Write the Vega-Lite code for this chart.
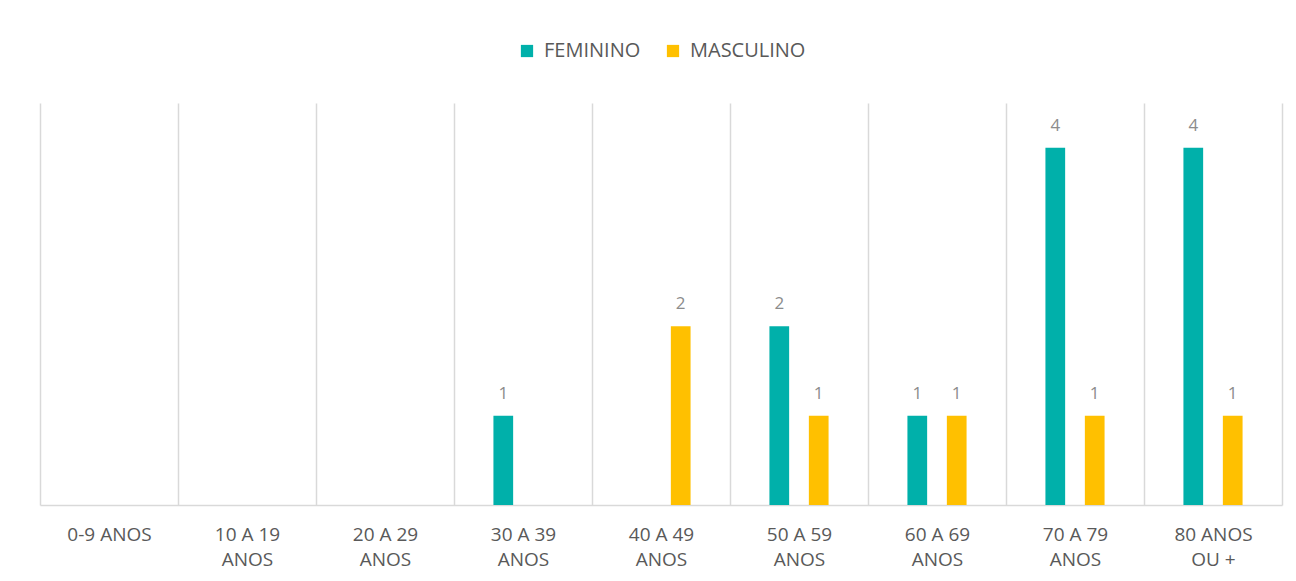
{
  "$schema": "https://vega.github.io/schema/vega-lite/v6.json",
  "width": 1242,
  "height": 402,
  "autosize": "none",
  "padding": {"left": 40, "top": 103, "right": 14, "bottom": 76},
  "background": "white",
  "data": {
    "values": [
      {"faixa": "30 A 39 ANOS", "sexo": "FEMININO", "n": 1},
      {"faixa": "40 A 49 ANOS", "sexo": "MASCULINO", "n": 2},
      {"faixa": "50 A 59 ANOS", "sexo": "FEMININO", "n": 2},
      {"faixa": "50 A 59 ANOS", "sexo": "MASCULINO", "n": 1},
      {"faixa": "60 A 69 ANOS", "sexo": "FEMININO", "n": 1},
      {"faixa": "60 A 69 ANOS", "sexo": "MASCULINO", "n": 1},
      {"faixa": "70 A 79 ANOS", "sexo": "FEMININO", "n": 4},
      {"faixa": "70 A 79 ANOS", "sexo": "MASCULINO", "n": 1},
      {"faixa": "80 ANOS OU +", "sexo": "FEMININO", "n": 4},
      {"faixa": "80 ANOS OU +", "sexo": "MASCULINO", "n": 1}
    ]
  },
  "config": {
    "view": {"stroke": null},
    "font": "Open Sans"
  },
  "encoding": {
    "x": {
      "field": "faixa",
      "type": "nominal",
      "sort": null,
      "scale": {
        "domain": ["0-9 ANOS", "10 A 19 ANOS", "20 A 29 ANOS", "30 A 39 ANOS", "40 A 49 ANOS", "50 A 59 ANOS", "60 A 69 ANOS", "70 A 79 ANOS", "80 ANOS OU +"],
        "paddingInner": 0,
        "paddingOuter": 0
      },
      "axis": {
        "title": null,
        "labelAngle": 0,
        "labelExpr": "!datum.value ? '' : datum.value == '0-9 ANOS' ? datum.value : datum.value == '80 ANOS OU +' ? ['80 ANOS', 'OU +'] : [replace(datum.value, ' ANOS', ''), 'ANOS']",
        "labelFontSize": 19,
        "labelColor": "#595959",
        "labelLineHeight": 25,
        "labelPadding": 20,
        "ticks": false,
        "grid": true,
        "tickBand": "extent",
        "gridColor": "#D9D9D9",
        "gridWidth": 1.5,
        "domainColor": "#D9D9D9",
        "domainWidth": 1.5
      }
    },
    "xOffset": {
      "field": "sexo",
      "type": "nominal",
      "scale": {"domain": ["FEMININO", "MASCULINO"], "paddingInner": 0.5, "paddingOuter": 1.1667}
    },
    "y": {
      "field": "n",
      "type": "quantitative",
      "scale": {"domain": [0, 4.5], "nice": false},
      "axis": null
    }
  },
  "layer": [
    {
      "mark": {"type": "bar"},
      "encoding": {
        "color": {
          "field": "sexo",
          "type": "nominal",
          "scale": {"domain": ["FEMININO", "MASCULINO"], "range": ["#00B0AA", "#FFC000"]},
          "legend": {
            "title": null,
            "orient": "none",
            "legendX": 477,
            "legendY": -62,
            "direction": "horizontal",
            "symbolType": "square",
            "symbolSize": 150,
            "symbolStrokeWidth": 0,
            "labelFontSize": 20,
            "labelColor": "#595959",
            "columnPadding": 22,
            "labelOffset": 7
          }
        }
      }
    },
    {
      "mark": {"type": "text", "baseline": "alphabetic", "dy": -17, "fontSize": 17, "color": "#8C8C8C"},
      "encoding": {"text": {"field": "n", "type": "quantitative"}}
    }
  ]
}
